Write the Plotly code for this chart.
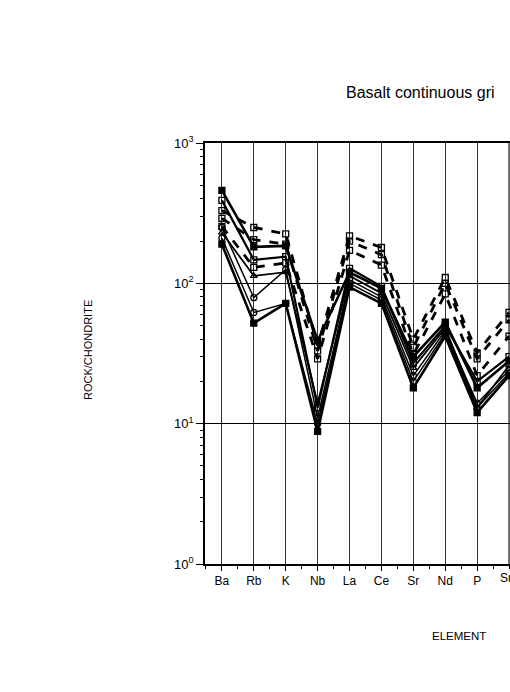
import plotly.graph_objects as go

elements = ["Ba", "Rb", "K", "Nb", "La", "Ce", "Sr", "Nd", "P", "Sm"]

# dashed series (open squares)
d1 = [330, 250, 225, 36, 218, 180, 40, 110, 32, 62]
d2 = [290, 205, 190, 33, 200, 160, 35, 100, 29, 55]
d3 = [255, 130, 140, 29, 172, 135, 31, 84, 22, 42]
# solid series
s1 = [460, 182, 185, 39, 120, 92, 30, 53, 18, 28]
s2 = [390, 147, 155, 13, 128, 95, 27, 50, 20, 30]
s3 = [230, 113, 120, 14, 113, 85, 25, 48, 13, 26]
s4 = [250, 79, 125, 11, 106, 80, 22, 46, 14, 24]
s5 = [210, 62, 72, 10, 100, 76, 20, 44, 13, 23]
s6 = [190, 52, 72, 8.8, 94, 72, 18, 42, 12, 22]

ytick_vals = [1, 10, 100, 1000]
ytick_text = ["10<sup>0</sup>", "10<sup>1</sup>", "10<sup>2</sup>", "10<sup>3</sup>"]

xs = list(range(len(elements)))

series = [
    (d1, "dash", "square-open", 2.8),
    (d2, "dash", "square-open", 2.8),
    (d3, "dash", "square-open", 2.8),
    (s1, "solid", "square", 2.6),
    (s2, "solid", "square-open", 2.2),
    (s3, "solid", "triangle-up-open", 1.8),
    (s4, "solid", "circle-open", 1.5),
    (s5, "solid", "circle-open", 1.5),
    (s6, "solid", "square", 2.6),
]

fig = go.Figure()
for vals, dash, sym, lw in series:
    fig.add_trace(go.Scatter(
        x=xs, y=vals, mode="lines+markers",
        line=dict(color="black", width=lw, dash=dash),
        marker=dict(symbol=sym, size=6, color="black",
                    line=dict(color="black", width=1.3)),
        showlegend=False, cliponaxis=False,
    ))

minor_vals = [m * 10 ** e for e in range(0, 3) for m in range(2, 10)]

fig.update_layout(
    width=510, height=692,
    margin=dict(l=205, r=0, t=143, b=128),
    paper_bgcolor="white", plot_bgcolor="white",
    font=dict(family="Liberation Sans, Arial, sans-serif", color="black"),
    xaxis=dict(
        range=[-0.53, 9.03], tickvals=xs[:-1], ticktext=elements[:-1],
        showgrid=True, gridcolor="#333", gridwidth=1.4,
        showline=True, linecolor="black", linewidth=1.5, mirror=True,
        ticks="outside", ticklen=5, tickcolor="black",
        minor=dict(dtick=0.5, tick0=0, ticks="outside", ticklen=3,
                   tickcolor="black", showgrid=False),
        tickfont=dict(size=12), zeroline=False,
    ),
    yaxis=dict(
        type="log", range=[0, 3], tickvals=ytick_vals, ticktext=ytick_text,
        showgrid=True, gridcolor="black", gridwidth=1.3,
        showline=True, linecolor="black", linewidth=1.5, mirror=False,
        ticks="outside", ticklen=7, tickcolor="black",
        minor=dict(tickvals=minor_vals, ticks="outside", ticklen=3,
                   tickcolor="black", showgrid=False),
        tickfont=dict(size=13), zeroline=False,
    ),
    shapes=[
        dict(type="line", xref="x", yref="paper", x0=xs[-1], x1=xs[-1],
             y0=0, y1=1, line=dict(color="#333", width=1.4), layer="below"),
    ],
    annotations=[
        dict(text=elements[-1], xref="x", yref="paper", x=xs[-1],
             y=-14 / 421, xanchor="center", yanchor="middle",
             showarrow=False, font=dict(size=12)),
        dict(text="Basalt continuous gri", xref="paper", yref="paper",
             x=(344 - 205) / 305, y=1 + (143 - 92) / 421, xanchor="left",
             yanchor="middle", showarrow=False, font=dict(size=16)),
        dict(text="ROCK/CHONDRITE", xref="paper", yref="paper",
             x=(88 - 205) / 305, y=(564 - 350) / 421, textangle=-90,
             xanchor="center", yanchor="middle", showarrow=False,
             font=dict(size=11)),
        dict(text="ELEMENT", xref="paper", yref="paper",
             x=(459 - 205) / 305, y=-(636 - 564) / 421,
             xanchor="center", yanchor="middle", showarrow=False,
             font=dict(size=11.5)),
    ],
)

fig.write_html("out.html")
